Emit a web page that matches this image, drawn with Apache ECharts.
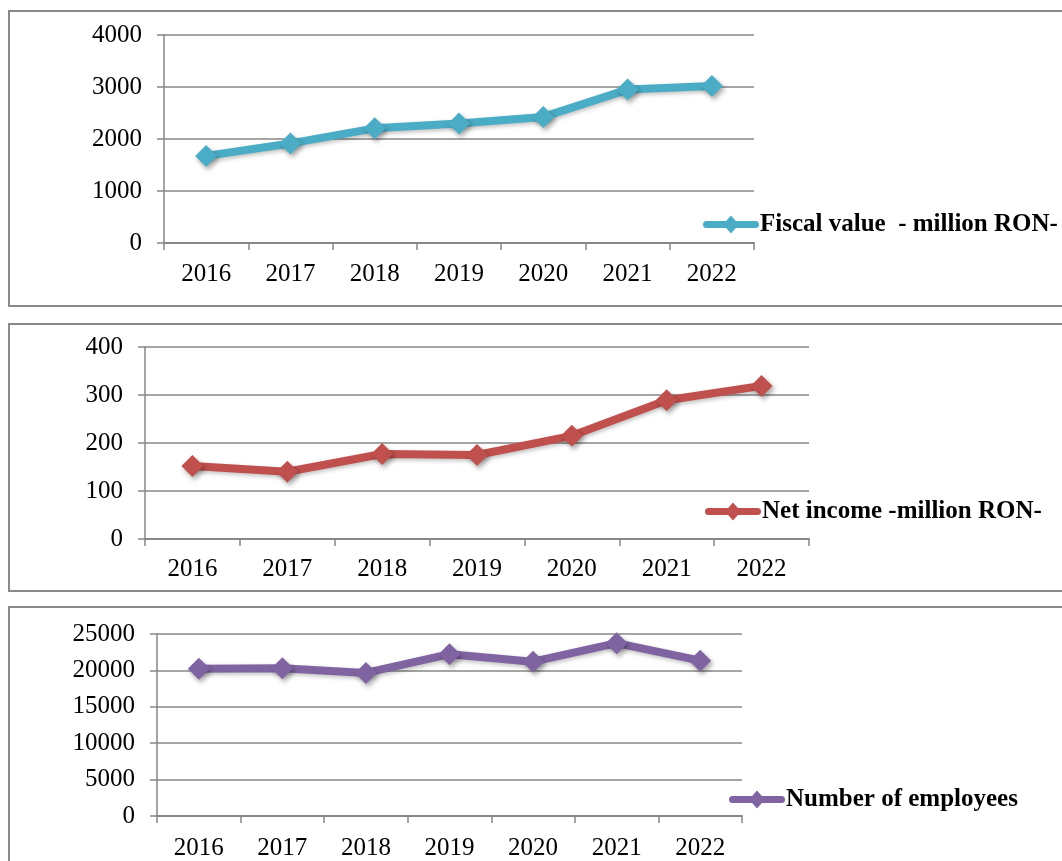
<!DOCTYPE html>
<html>
<head>
<meta charset="utf-8">
<script src="https://cdn.jsdelivr.net/npm/echarts@6/dist/echarts.min.js"></script>
<style>
  html, body { margin: 0; padding: 0; background: #fff; }
  #chart { width: 1062px; height: 861px; }
</style>
</head>
<body>
<div id="chart"></div>
<script>
// data
const years = ['2016', '2017', '2018', '2019', '2020', '2021', '2022']
const fiscalValue = [1675, 1915, 2205, 2300, 2425, 2950, 3020]
const netIncome = [152, 140, 177, 175, 215, 289, 319]
const employees = [20230, 20300, 19650, 22230, 21200, 23740, 21340]

const fiscalTicks = { min: 0, max: 4000, interval: 1000 }
const incomeTicks = { min: 0, max: 400, interval: 100 }
const employeeTicks = { min: 0, max: 25000, interval: 5000 }

const names = ['Fiscal value  - million RON-', 'Net income -million RON-', 'Number of employees']
const colors = ['#4bacc6', '#c0504d', '#8064a2']

const FONT = '"Liberation Serif", "Times New Roman", serif'
const GRAY = '#878787'

// legend marker: thick rounded bar with a diamond on it
const LEGEND_ICON = 'path://M3.5,6.5 L52.5,6.5 A3.5,3.5 0 0 1 52.5,13.5 L3.5,13.5 A3.5,3.5 0 0 1 3.5,6.5 Z ' +
  'M28,1 L36,10 L28,19 L20,10 Z'

const chart = echarts.init(document.getElementById('chart'))

// plot areas, one per panel
const grids = [
  { left: 164, top: 35, width: 590, height: 208 },
  { left: 145, top: 347, width: 664, height: 192 },
  { left: 157, top: 634, width: 585, height: 185 },
]

const ranges = [fiscalTicks, incomeTicks, employeeTicks]
const values = [fiscalValue, netIncome, employees]
const labelMargins = [19, 18, 20]

const legendPos = [
  { left: 703, top: 212 },
  { left: 705, top: 499 },
  { left: 729, top: 787 },
]

function xAxis(i) {
  return {
    type: 'category',
    gridIndex: i,
    data: years,
    boundaryGap: true,
    axisLine: { lineStyle: { color: GRAY, width: 2 } },
    axisTick: { show: true, length: 7, lineStyle: { color: GRAY, width: 1.5 } },
    axisLabel: { color: '#000', fontFamily: FONT, fontSize: 25, margin: labelMargins[i] },
  }
}

function yAxis(i) {
  return {
    type: 'value',
    gridIndex: i,
    min: ranges[i].min,
    max: ranges[i].max,
    interval: ranges[i].interval,
    axisLine: { show: true, lineStyle: { color: GRAY, width: 1.5 } },
    axisTick: { show: true, length: 7, lineStyle: { color: GRAY, width: 1.5 } },
    splitLine: { lineStyle: { color: GRAY, width: 1.5 } },
    axisLabel: {
      color: '#000', fontFamily: FONT, fontSize: 25, margin: 22,
      formatter: v => String(v),
    },
  }
}

function series(i) {
  return {
    name: names[i],
    type: 'line',
    xAxisIndex: i,
    yAxisIndex: i,
    data: values[i],
    symbol: 'diamond',
    symbolSize: 22,
    showSymbol: true,
    color: colors[i],
    lineStyle: {
      width: 8,
      color: colors[i],
      shadowColor: 'rgba(0,0,0,0.25)',
      shadowBlur: 4,
      shadowOffsetX: 1,
      shadowOffsetY: 2,
    },
    itemStyle: {
      color: colors[i],
      shadowColor: 'rgba(0,0,0,0.35)',
      shadowBlur: 5,
      shadowOffsetX: 2,
      shadowOffsetY: 3,
    },
    animation: false,
  }
}

function legend(i) {
  return {
    data: [{ name: names[i], icon: LEGEND_ICON }],
    left: legendPos[i].left,
    top: legendPos[i].top,
    itemWidth: 56,
    itemHeight: 20,
    padding: 0,
    itemStyle: { shadowBlur: 0 },
    textStyle: { color: '#000', fontFamily: FONT, fontSize: 25, fontWeight: 'bold', padding: [0, 0, 0, -4] },
    selectedMode: false,
  }
}

// panel frames
const boxes = [
  { y: 11, h: 295 },
  { y: 324, h: 267 },
  { y: 607, h: 280 },
]

const option = {
  animation: false,
  grid: grids,
  xAxis: [0, 1, 2].map(xAxis),
  yAxis: [0, 1, 2].map(yAxis),
  series: [0, 1, 2].map(series),
  legend: [0, 1, 2].map(legend),
  graphic: boxes.map(b => ({
    type: 'rect',
    shape: { x: 9, y: b.y, width: 1080, height: b.h },
    style: { fill: 'none', stroke: '#8a8a8a', lineWidth: 2 },
    silent: true,
    z: -1,
  })),
}

chart.setOption(option)
</script>
</body>
</html>
